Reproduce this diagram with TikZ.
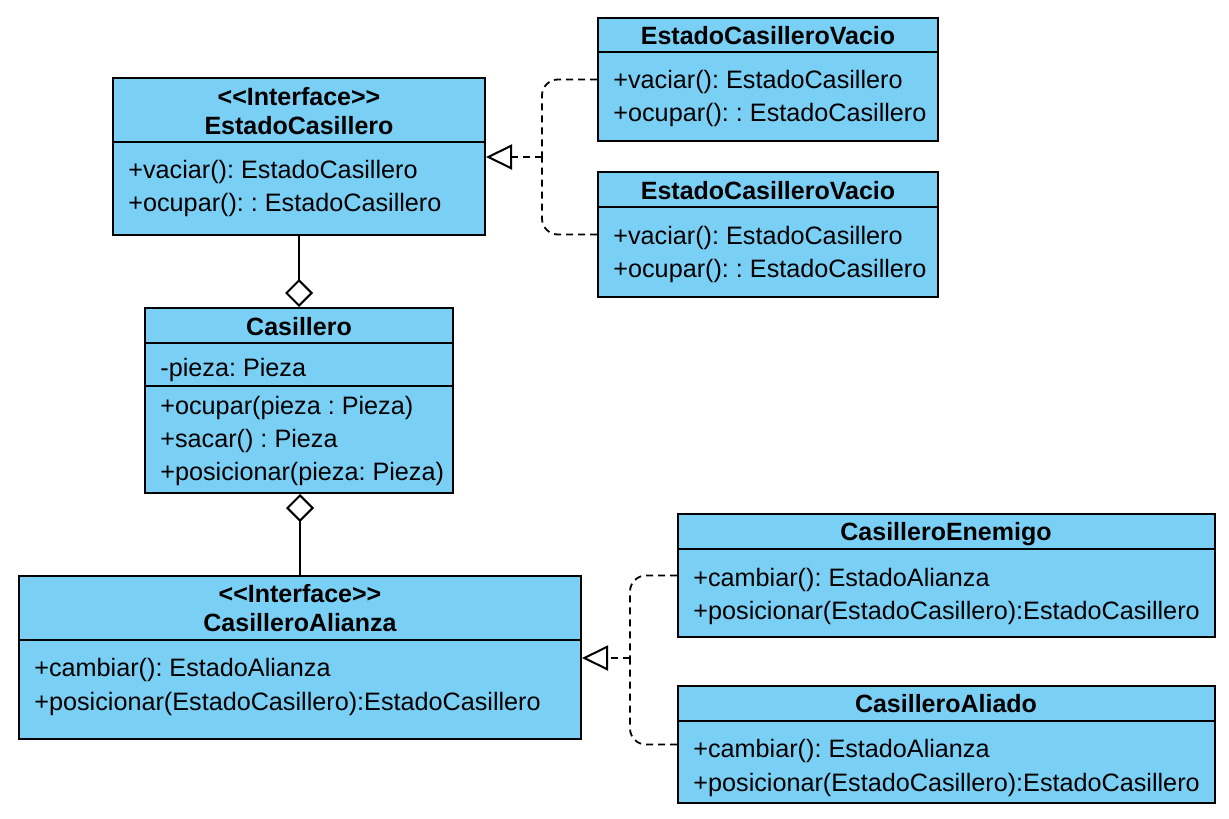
\documentclass[tikz,border=0pt]{standalone}
\usepackage{fontspec}
\setmainfont{Liberation Sans}
\frenchspacing
\usetikzlibrary{arrows.meta,fit}
\definecolor{umlblue}{RGB}{122,207,245}
\newcommand{\stereo}[1]{<\kern0pt<#1>\kern0pt>}
\begin{document}
\begin{tikzpicture}[x=0.5pt,y=-0.5pt,
  box/.style={draw=black, fill=umlblue, line width=1pt, inner sep=0pt},
  divider/.style={line width=1pt},
  txt/.style={font=\fontsize{12.6}{15}\selectfont, inner sep=0pt, anchor=base west},
  ttl/.style={font=\fontsize{12.5}{15}\selectfont\bfseries, inner sep=0pt, anchor=base},
  dep/.style={line width=0.9pt, dash pattern=on 3.5pt off 2.5pt, rounded corners=8pt},
  real/.style={-{Triangle[open, length=13pt, width=12.5pt, line width=1pt]}},
  agg/.style={line width=1pt, -{Diamond[open, length=14pt, width=14pt, line width=1pt]}}]
\useasboundingbox[fill=white] (0,0) rectangle (1229,818);

% EstadoCasillero
\node[box, fit={(113,78)(485,235)}] (ec) {};
\draw[divider] (113,142) -- (485,142);
\node[ttl] (ect1) at (299,106) {\stereo{Interface}};
\node[ttl] (ect2) at (299,135) {EstadoCasillero};
\node[txt] (ecm1) at (128,179) {+vaciar(): EstadoCasillero};
\node[txt] (ecm2) at (128,212) {+ocupar(): : EstadoCasillero};

% EstadoCasilleroVacio (top)
\node[box, fit={(598,18)(938,141)}] (ev1) {};
\draw[divider] (598,52) -- (938,52);
\node[ttl] (ev1t) at (768,45) {EstadoCasilleroVacio};
\node[txt] (ev1m1) at (613,89) {+vaciar(): EstadoCasillero};
\node[txt] (ev1m2) at (613,122) {+ocupar(): : EstadoCasillero};

% EstadoCasilleroVacio (bottom)
\node[box, fit={(598,172)(938,297)}] (ev2) {};
\draw[divider] (598,207) -- (938,207);
\node[ttl] (ev2t) at (768,199) {EstadoCasilleroVacio};
\node[txt] (ev2m1) at (613,244) {+vaciar(): EstadoCasillero};
\node[txt] (ev2m2) at (613,277) {+ocupar(): : EstadoCasillero};

% Casillero
\node[box, fit={(145,308)(453,493)}] (cas) {};
\draw[divider] (145,343) -- (453,343);
\draw[divider] (145,386) -- (453,386);
\node[ttl] (cast) at (299,335) {Casillero};
\node[txt] (casa) at (160,376) {-pieza: Pieza};
\node[txt] (casm1) at (160,414) {+ocupar(pieza : Pieza)};
\node[txt] (casm2) at (160,447) {+sacar() : Pieza};
\node[txt] (casm3) at (160,480) {+posicionar(pieza: Pieza)};

% CasilleroAlianza
\node[box, fit={(19,576)(581,739)}] (ca) {};
\draw[divider] (19,640) -- (581,640);
\node[ttl] (cat1) at (300,602) {\stereo{Interface}};
\node[ttl] (cat2) at (300,631) {CasilleroAlianza};
\node[txt] (cam1) at (34,676) {+cambiar(): EstadoAlianza};
\node[txt] (cam2) at (34,710) {+posicionar(EstadoCasillero):EstadoCasillero};

% CasilleroEnemigo
\node[box, fit={(678,514)(1215,637)}] (cen) {};
\draw[divider] (678,549) -- (1215,549);
\node[ttl] (cent) at (946,540) {CasilleroEnemigo};
\node[txt] (cenm1) at (693,586) {+cambiar(): EstadoAlianza};
\node[txt] (cenm2) at (693,619) {+posicionar(EstadoCasillero):EstadoCasillero};

% CasilleroAliado
\node[box, fit={(678,686)(1215,803)}] (cal) {};
\draw[divider] (678,721) -- (1215,721);
\node[ttl] (calt) at (946,712) {CasilleroAliado};
\node[txt] (calm1) at (693,757) {+cambiar(): EstadoAlianza};
\node[txt] (calm2) at (693,791) {+posicionar(EstadoCasillero):EstadoCasillero};

% realizations (top)
\coordinate (j1) at (542,157);
\draw[dep] (ev1.west) -| (j1);
\draw[dep] (ev2.west) -| (j1);
\draw[dep, real] (j1) -- (ec.east |- j1);

% realizations (bottom)
\coordinate (j2) at (630,658);
\draw[dep] (cen.west) -| (j2);
\draw[dep] (cal.west) -| (j2);
\draw[dep, real] (j2) -- (ca.east |- j2);

% aggregations
\draw[agg] (ec.south) -- (cas.north);
\draw[agg] (ca.north) -- (ca.north |- cas.south);
\end{tikzpicture}
\end{document}
